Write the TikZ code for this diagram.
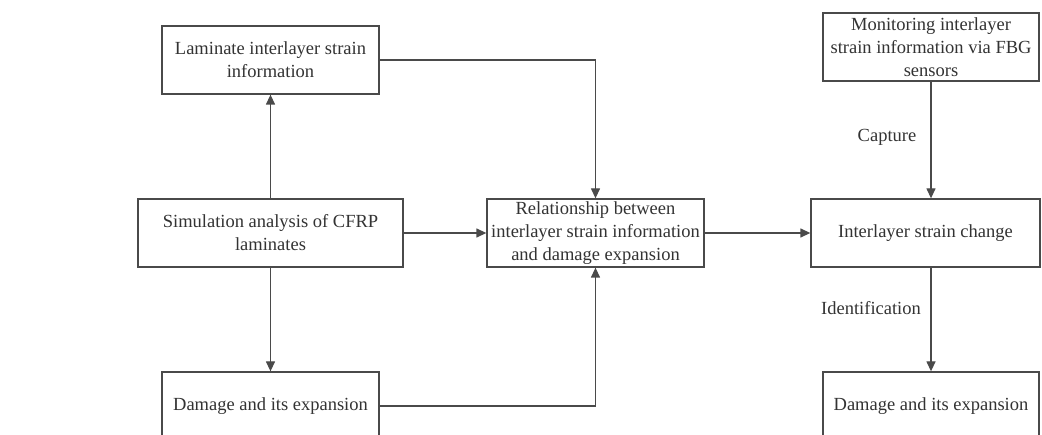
\documentclass[tikz,border=0pt]{standalone}
\usepackage{fontspec}
\setmainfont{Liberation Serif}
\usetikzlibrary{arrows.meta}
\definecolor{txt}{HTML}{333333}
\definecolor{ln}{HTML}{4A4A4A}
\begin{document}
\begin{tikzpicture}[x=1pt,y=-1pt,
  box/.style={draw=ln, line width=1.3pt, fill=white, text=txt, align=center,
    inner sep=0pt, minimum height=68pt,
    font=\fontsize{18.5}{23}\selectfont},
  conn/.style={draw=ln, line width=1.3pt},
  arr/.style={conn, -{Triangle[length=10pt,width=9pt]}},
  lbl/.style={text=txt, inner sep=0pt, font=\fontsize{18.5}{23}\selectfont}]
\useasboundingbox (0,0) rectangle (1042,435);
\clip (0,0) rectangle (1042,435);
\node[box, minimum width=217pt] (A) at (270.5,60) {Laminate interlayer strain\\information};
\node[box, minimum width=265pt] (B) at (270.5,233) {Simulation analysis of CFRP\\laminates};
\node[box, minimum width=217pt] (C) at (595.5,233) {Relationship between\\interlayer strain information\\and damage expansion};
\node[box, minimum width=229pt] (D) at (925.5,233) {Interlayer strain change};
\node[box, minimum width=216pt] (E) at (931,47) {Monitoring interlayer\\strain information via FBG\\sensors};
\node[box, minimum width=217pt] (F) at (270.5,406) {Damage and its expansion};
\node[box, minimum width=216pt] (G) at (931,406) {Damage and its expansion};
\node[lbl] (cap) at (887,137) {Capture};
\node[lbl] (idf) at (871,308) {Identification};
\draw[arr] (B.north) -- (A.south);
\draw[arr] (B.south) -- (F.north);
\draw[arr] (A.east) -| (C.north);
\draw[arr] (F.east) -| (C.south);
\draw[arr] (B.east) -- (C.west);
\draw[arr] (C.east) -- (D.west);
\draw[arr] (E.south) -- (E.south |- D.north);
\draw[arr] (G.north |- D.south) -- (G.north);
\end{tikzpicture}
\end{document}
